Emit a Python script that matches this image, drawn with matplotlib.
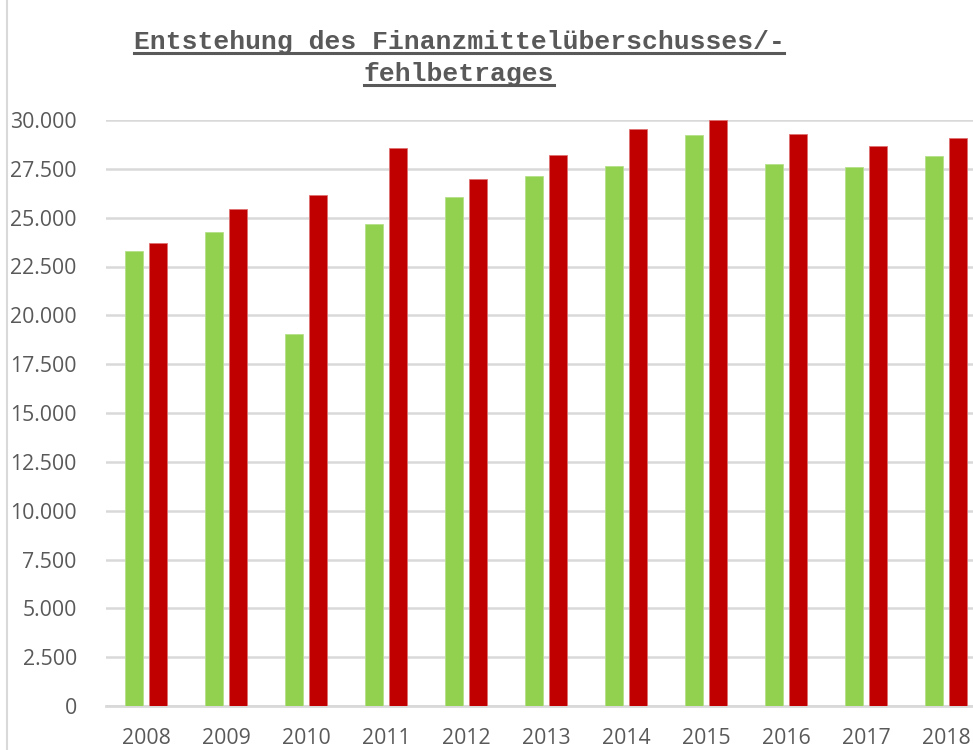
import matplotlib
matplotlib.use("Agg")
import matplotlib.pyplot as plt
import numpy as np
from matplotlib.lines import Line2D
from matplotlib.ticker import FuncFormatter

years = ["2008", "2009", "2010", "2011", "2012", "2013",
         "2014", "2015", "2016", "2017", "2018"]
green_vals = [23300, 24270, 19030, 24700, 26080, 27130,
              27660, 29230, 27750, 27580, 28160]
red_vals = [23690, 25430, 26150, 28570, 26980, 28210,
            29520, 30000, 29290, 28670, 29070]
title_lines = ["Entstehung des Finanzmittelüberschusses/-", "fehlbetrages"]

W, H = 973, 750
GRID = "#d9d9d9"
TXT = "#595959"


def de_fmt(v, pos):
    return f"{int(round(v)):,}".replace(",", ".")


fig = plt.figure(figsize=(W / 100, H / 100), dpi=100)
ax = fig.add_axes([106 / W, (H - 706) / H, 880 / W, 586 / H])

x = np.arange(len(years))
bw = 0.225
ax.bar(x - 0.145, green_vals, bw, color="#92d050", edgecolor="#b5e08a", linewidth=0.6, zorder=3)
ax.bar(x + 0.145, red_vals, bw, color="#c00000", edgecolor="#e07070", linewidth=0.6, zorder=3)

ax.set_xlim(-0.5, len(years) - 0.5)
ax.set_ylim(0, 30000)
ax.set_yticks(np.arange(0, 30001, 2500))
ax.yaxis.set_major_formatter(FuncFormatter(de_fmt))
ax.set_xticks(x)
ax.set_xticklabels(years)
ax.grid(axis="y", color=GRID, linewidth=1.8, zorder=0)
ax.set_axisbelow(True)
for s in ["top", "right", "left"]:
    ax.spines[s].set_visible(False)
ax.spines["bottom"].set_color(GRID)
ax.spines["bottom"].set_linewidth(2)
ax.tick_params(axis="both", length=0, labelsize=15.3, labelcolor=TXT)
ax.tick_params(axis="y", pad=21)
ax.tick_params(axis="x", pad=16)
for lab in ax.get_xticklabels() + ax.get_yticklabels():
    lab.set_fontfamily("Open Sans")

# left border of the chart area
fig.add_artist(Line2D([7 / W, 7 / W], [0, 1], color=GRID, linewidth=1.5))

# title, monospace bold with underline
cx = 459 / W
baselines = [49, 81]
renderer = fig.canvas.get_renderer()
for line, by in zip(title_lines, baselines):
    t = fig.text(cx, (H - by) / H, line, ha="center", va="baseline",
                 fontsize=19, fontweight="bold", family="Liberation Mono", color=TXT)
    bb = t.get_window_extent(renderer)
    uy = (H - by - 4) / H
    fig.add_artist(Line2D([bb.x0 / W, bb.x1 / W], [uy, uy], color=TXT, linewidth=2.2))

fig.savefig("out.png", dpi=100)
